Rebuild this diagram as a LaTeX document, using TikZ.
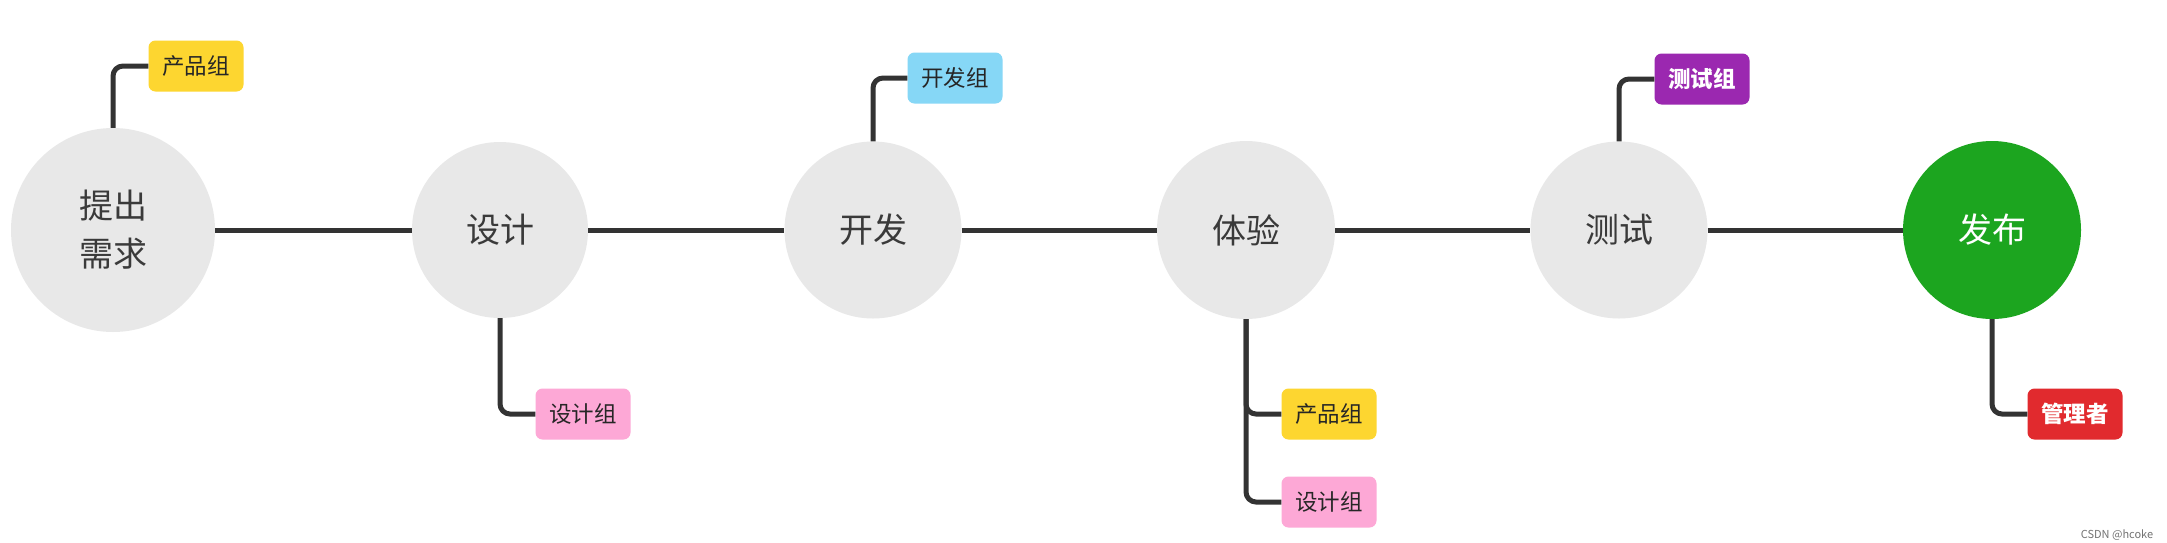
\documentclass[tikz,border=0pt]{standalone}
\usepackage{fontspec}
\newfontfamily\cjk{Noto Sans CJK SC}
\setmainfont{Noto Sans CJK SC}
\definecolor{stagegray}{HTML}{E8E8E8}
\definecolor{stagetext}{HTML}{3A3A3A}
\definecolor{linegray}{HTML}{333333}
\definecolor{greenpub}{HTML}{1CA51F}
\definecolor{tagyellow}{HTML}{FDD630}
\definecolor{tagpink}{HTML}{FDA8D6}
\definecolor{tagblue}{HTML}{86D7F6}
\definecolor{tagpurple}{HTML}{9B28B0}
\definecolor{tagred}{HTML}{E12A2E}
\begin{document}
\begin{tikzpicture}[x=1pt,y=-1pt,
  stage/.style={circle, fill=stagegray, text=stagetext, inner sep=0pt, minimum size=#1, align=center, font=\cjk\fontsize{34}{48}\selectfont},
  tag/.style={rounded corners=7pt, fill=#1, inner sep=0pt, minimum width=95pt, minimum height=51pt, font=\cjk\fontsize{22.5}{24}\selectfont, text=black!85},
  conn/.style={draw=linegray, line width=5pt, rounded corners=10pt}]
\useasboundingbox[fill=white] (0,0) rectangle (2167,542);
% stages
\node[stage=204pt] (s1) at (113,230) {提出\\需求};
\node[stage=176pt] (s2) at (500,230) {设计};
\node[stage=177pt] (s3) at (873,230) {开发};
\node[stage=178pt] (s4) at (1246,230) {体验};
\node[stage=177pt] (s5) at (1619,230) {测试};
\node[stage=178pt, fill=greenpub, text=white] (s6) at (1992,230) {发布};
% tags
\node[tag=tagyellow] (t1) at (196,66) {产品组};
\node[tag=tagpink] (t2) at (583,414) {设计组};
\node[tag=tagblue] (t3) at (955,78) {开发组};
\node[tag=tagyellow] (t4a) at (1329,414) {产品组};
\node[tag=tagpink] (t4b) at (1329,502) {设计组};
\node[tag=tagpurple, text=white, font=\cjk\bfseries\fontsize{22.5}{24}\selectfont] (t5) at (1702,79) {测试组};
\node[tag=tagred, text=white, font=\cjk\bfseries\fontsize{22.5}{24}\selectfont] (t6) at (2075,414) {管理者};
% main line
\draw[conn] (s1) -- (s2);
\draw[conn] (s2) -- (s3);
\draw[conn] (s3) -- (s4);
\draw[conn] (s4) -- (s5);
\draw[conn] (s5) -- (s6);
% branches
\draw[conn] (s1.north) |- (t1.west);
\draw[conn] (s2.south) |- (t2.west);
\draw[conn] (s3.north) |- (t3.west);
\draw[conn] (s4.south) |- (t4a.west);
\draw[conn] (s4.south) |- (t4b.west);
\draw[conn] (s5.north) |- (t5.west);
\draw[conn] (s6.south) |- (t6.west);
% watermark
\node[text=black!55, font=\fontsize{11}{12}\selectfont, inner sep=0pt] (wm) at (2117,535) {CSDN @hcoke};
\end{tikzpicture}
\end{document}
